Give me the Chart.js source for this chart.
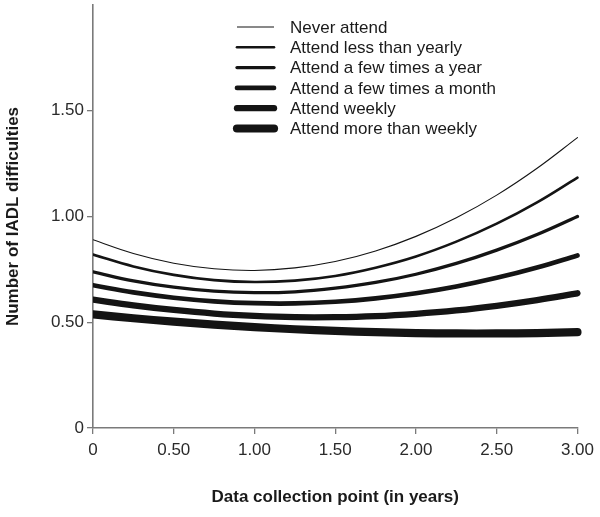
<!DOCTYPE html>
<html>
<head>
<meta charset="utf-8">
<script src="https://cdn.jsdelivr.net/npm/chart.js@4/dist/chart.umd.min.js"></script>
<style>
  html, body { margin: 0; padding: 0; background: #fff; }
  #wrap { width: 600px; height: 517px; position: relative; }
</style>
</head>
<body>
<div id="wrap"><canvas id="c" width="600" height="517"></canvas></div>
<script>
// ---- data ----
const years = [0, 0.25, 0.5, 0.75, 1, 1.25, 1.5, 1.75, 2, 2.25, 2.5, 2.75, 3];
const seriesLabels = [
  "Never attend",
  "Attend less than yearly",
  "Attend a few times a year",
  "Attend a few times a month",
  "Attend weekly",
  "Attend more than weekly"
];
const neverAttend     = [0.890, 0.825, 0.779, 0.753, 0.745, 0.757, 0.787, 0.837, 0.906, 0.994, 1.101, 1.228, 1.373];
const lessThanYearly  = [0.820, 0.764, 0.724, 0.699, 0.690, 0.697, 0.719, 0.758, 0.811, 0.881, 0.966, 1.067, 1.184];
const fewTimesYear    = [0.738, 0.696, 0.666, 0.647, 0.640, 0.644, 0.661, 0.688, 0.727, 0.778, 0.841, 0.915, 1.000];
const fewTimesMonth   = [0.675, 0.641, 0.616, 0.599, 0.590, 0.589, 0.597, 0.613, 0.637, 0.669, 0.710, 0.759, 0.816];
const weekly          = [0.607, 0.580, 0.558, 0.541, 0.530, 0.524, 0.524, 0.529, 0.540, 0.556, 0.578, 0.605, 0.637];
const moreThanWeekly  = [0.537, 0.519, 0.503, 0.489, 0.477, 0.467, 0.459, 0.453, 0.449, 0.447, 0.447, 0.449, 0.453];
const yTickValues = [0, 0.5, 1, 1.5];
const xTickValues = [0, 0.5, 1, 1.5, 2, 2.5, 3];
const xTitle = "Data collection point (in years)";
const yTitle = "Number of IADL difficulties";

const allSeries = [neverAttend, lessThanYearly, fewTimesYear, fewTimesMonth, weekly, moreThanWeekly];
const widths = [1.1, 2.6, 3.3, 4.7, 6.3, 8.2];
const lineColor = "#141414";
const axisColor = "#7a7a7a";
const FONT = "'Liberation Sans', Arial, Helvetica, sans-serif";

const fmt = v => (v === 0 ? "0" : Number(v).toFixed(2));

const datasets = allSeries.map((s, i) => ({
  label: seriesLabels[i],
  data: years.map((x, j) => ({ x: x, y: s[j] })),
  borderColor: lineColor,
  backgroundColor: lineColor,
  borderWidth: widths[i],
  borderCapStyle: "round",
  borderJoinStyle: "round",
  pointRadius: 0,
  pointHoverRadius: 0,
  tension: 0.4,
  fill: false,
  clip: { left: 0, right: false, top: false, bottom: false }
}));

const customText = {
  id: "customText",
  afterDraw(chart) {
    const ctx = chart.ctx;
    const area = chart.chartArea;
    ctx.save();
    // legend
    const lx0 = 237, lx1 = 274, tx = 290, y0 = 27, dy = 20.3;
    chart.data.datasets.forEach((ds, i) => {
      const y = y0 + i * dy;
      ctx.beginPath();
      ctx.strokeStyle = lineColor;
      ctx.lineWidth = ds.borderWidth;
      ctx.lineCap = i === 0 ? "butt" : "round";
      ctx.moveTo(lx0, y);
      ctx.lineTo(lx1, y);
      ctx.stroke();
      ctx.fillStyle = "#1a1a1a";
      ctx.font = "17px " + FONT;
      ctx.textAlign = "left";
      ctx.textBaseline = "middle";
      ctx.fillText(ds.label, tx, y + 1);
    });
    // axis titles
    ctx.fillStyle = "#1a1a1a";
    ctx.font = "bold 17px " + FONT;
    ctx.textAlign = "center";
    ctx.textBaseline = "middle";
    ctx.fillText(xTitle, (area.left + area.right) / 2, 497);
    ctx.translate(13, (area.top + area.bottom) / 2);
    ctx.rotate(-Math.PI / 2);
    ctx.fillText(yTitle, 0, 0);
    ctx.restore();
  }
};

new Chart(document.getElementById("c"), {
  type: "line",
  data: { datasets: datasets },
  options: {
    responsive: false,
    animation: false,
    events: [],
    layout: { padding: { left: 0, right: 20, top: 5, bottom: 0 } },
    plugins: { legend: { display: false }, tooltip: { enabled: false } },
    scales: {
      x: {
        type: "linear",
        min: 0, max: 3,
        afterBuildTicks: s => { s.ticks = xTickValues.map(v => ({ value: v })); },
        afterFit: s => { s.height = 89; },
        ticks: {
          callback: v => fmt(v),
          color: "#2a2a2a",
          font: { family: FONT, size: 17 },
          padding: 6,
          maxRotation: 0,
          autoSkip: false
        },
        grid: { display: true, drawOnChartArea: false, drawTicks: true, tickLength: 6, color: axisColor, lineWidth: 1.3 },
        border: { display: true, color: axisColor, width: 1.6 }
      },
      y: {
        type: "linear",
        min: 0, max: 2,
        afterBuildTicks: s => { s.ticks = yTickValues.map(v => ({ value: v })); },
        afterFit: s => { s.width = 93; s.paddingTop = 0; s.paddingBottom = 0; },
        ticks: {
          callback: v => fmt(v),
          color: "#2a2a2a",
          font: { family: FONT, size: 17 },
          padding: 3,
          autoSkip: false
        },
        grid: { display: true, drawOnChartArea: false, drawTicks: true, tickLength: 6, color: axisColor, lineWidth: 1.3 },
        border: { display: true, color: axisColor, width: 1.6 }
      }
    }
  },
  plugins: [customText]
});
</script>
</body>
</html>
